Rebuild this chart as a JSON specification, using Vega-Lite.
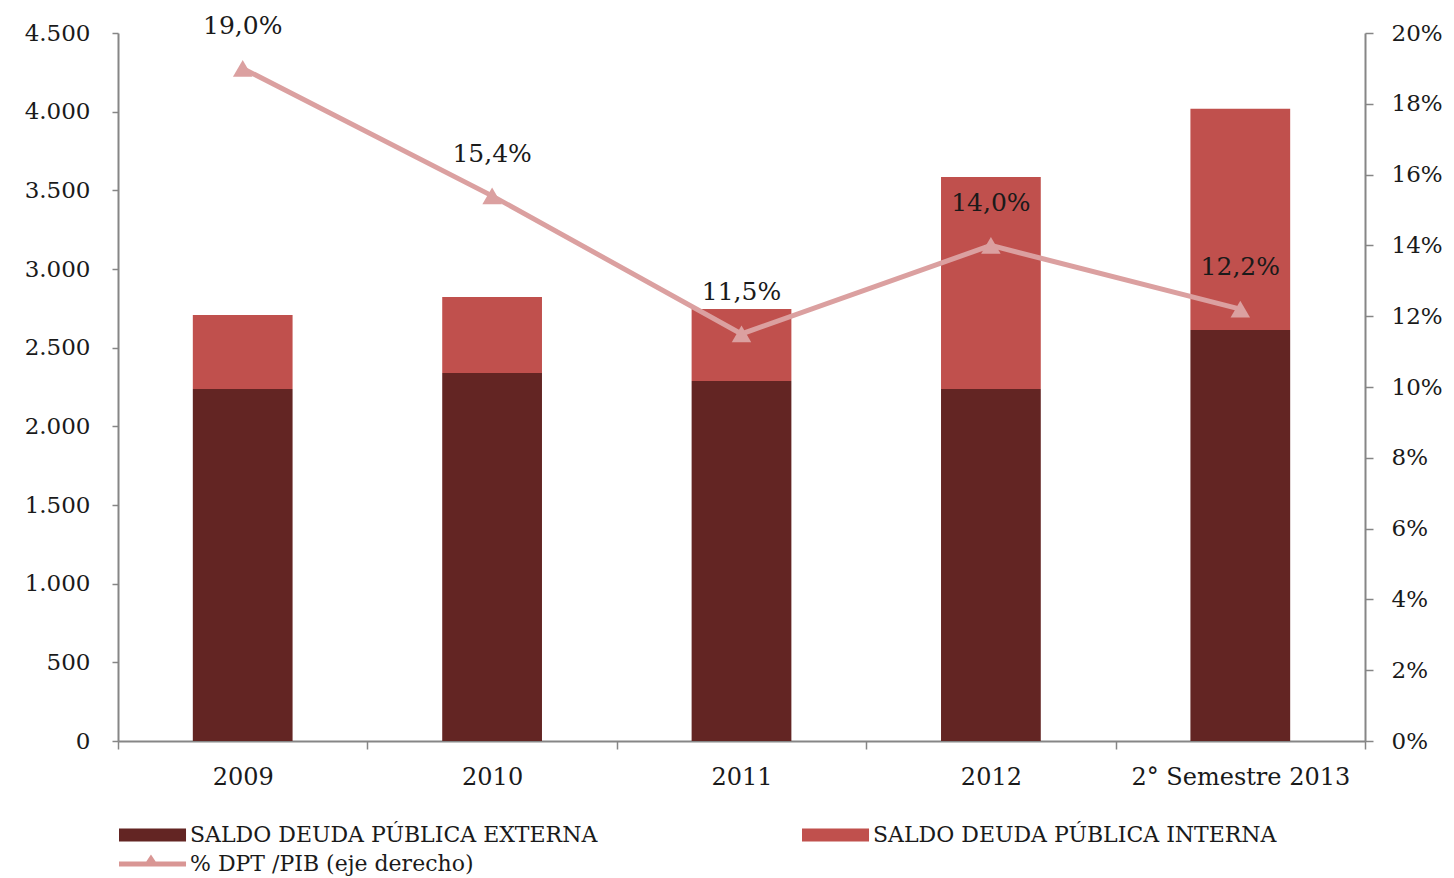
{
  "$schema": "https://vega.github.io/schema/vega-lite/v6.json",
  "width": 1247,
  "height": 708,
  "autosize": {"type": "none"},
  "padding": {"left": 118, "top": 33, "right": 89, "bottom": 137},
  "config": {
    "locale": {"number": {"decimal": ",", "thousands": ".", "grouping": [3], "currency": ["", ""]}},
    "view": {"stroke": null},
    "font": "DejaVu Serif",
    "axis": {
      "grid": false,
      "domainColor": "#868686",
      "tickColor": "#868686",
      "domainWidth": 2,
      "tickWidth": 1.5,
      "labelFont": "DejaVu Serif",
      "labelFontSize": 23,
      "labelColor": "#1a1a1a",
      "title": null
    }
  },
  "datasets": {
    "barras": [
      {"anio": "2009", "serie": "SALDO DEUDA PÚBLICA EXTERNA", "valor": 2238},
      {"anio": "2009", "serie": "SALDO DEUDA PÚBLICA INTERNA", "valor": 470},
      {"anio": "2010", "serie": "SALDO DEUDA PÚBLICA EXTERNA", "valor": 2339},
      {"anio": "2010", "serie": "SALDO DEUDA PÚBLICA INTERNA", "valor": 483},
      {"anio": "2011", "serie": "SALDO DEUDA PÚBLICA EXTERNA", "valor": 2288},
      {"anio": "2011", "serie": "SALDO DEUDA PÚBLICA INTERNA", "valor": 458},
      {"anio": "2012", "serie": "SALDO DEUDA PÚBLICA EXTERNA", "valor": 2238},
      {"anio": "2012", "serie": "SALDO DEUDA PÚBLICA INTERNA", "valor": 1347},
      {"anio": "2° Semestre 2013", "serie": "SALDO DEUDA PÚBLICA EXTERNA", "valor": 2613},
      {"anio": "2° Semestre 2013", "serie": "SALDO DEUDA PÚBLICA INTERNA", "valor": 1405}
    ],
    "linea": [
      {"anio": "2009", "pct": 0.190},
      {"anio": "2010", "pct": 0.154},
      {"anio": "2011", "pct": 0.115},
      {"anio": "2012", "pct": 0.140},
      {"anio": "2° Semestre 2013", "pct": 0.122}
    ]
  },
  "layer": [
    {
      "data": {"name": "barras"},
      "mark": {"type": "bar", "width": {"band": 0.4}},
      "encoding": {
        "x": {
          "field": "anio", "type": "nominal", "sort": null,
          "scale": {"paddingInner": 0, "paddingOuter": 0},
          "axis": {"labelAngle": 0, "tickBand": "extent", "tickSize": 8, "labelPadding": 16, "labelLimit": 0, "labelFontSize": 24}
        },
        "y": {
          "field": "valor", "type": "quantitative", "stack": "zero",
          "scale": {"domain": [0, 4500], "nice": false},
          "axis": {"orient": "left", "values": [0, 500, 1000, 1500, 2000, 2500, 3000, 3500, 4000, 4500], "format": ",d", "tickSize": 6, "labelPadding": 22}
        },
        "order": {"field": "serie", "sort": "ascending"},
        "color": {
          "field": "serie", "type": "nominal",
          "scale": {
            "domain": ["SALDO DEUDA PÚBLICA EXTERNA", "SALDO DEUDA PÚBLICA INTERNA", "% DPT /PIB (eje derecho)"],
            "range": ["#632523", "#C0504D", "#D99694"]
          },
          "legend": {
            "orient": "none",
            "direction": "horizontal",
            "legendX": -4,
            "legendY": 791,
            "columns": 2,
            "columnPadding": 199,
            "rowPadding": 7,
            "title": null,
            "symbolSize": 144,
            "symbolStrokeWidth": 0,
            "labelFont": "DejaVu Serif",
            "labelFontSize": 22,
            "labelColor": "#1a1a1a",
            "labelLimit": 0,
            "labelOffset": 54,
            "encode": {
              "symbols": {
                "update": {
                  "shape": {"signal": "datum.value === '% DPT /PIB (eje derecho)' ? 'M-1,-0.4L10.17,-0.4L10.17,0.4L-1,0.4Z M3,0.4L4.33,-1.6L5.66,0.4Z' : 'M-1,-1.1L10.17,-1.1L10.17,1.1L-1,1.1Z'"},
                  "fill": {"signal": "scale('color', datum.value)"},
                  "strokeWidth": {"value": 0}
                }
              }
            }
          }
        }
      }
    },
    {
      "data": {"name": "linea"},
      "encoding": {
        "x": {"field": "anio", "type": "nominal", "sort": null, "scale": {"paddingInner": 0, "paddingOuter": 0}},
        "y": {
          "field": "pct", "type": "quantitative",
          "scale": {"domain": [0, 0.2], "nice": false},
          "axis": {"orient": "right", "values": [0, 0.02, 0.04, 0.06, 0.08, 0.1, 0.12, 0.14, 0.16, 0.18, 0.2], "format": ".0%", "tickSize": 8, "labelPadding": 18}
        }
      },
      "layer": [
        {"mark": {"type": "line", "color": "#DBA0A0", "strokeWidth": 5}},
        {"mark": {"type": "point", "shape": "triangle-up", "filled": true, "color": "#DBA0A0", "opacity": 1, "size": 380}},
        {
          "mark": {"type": "text", "dy": -42, "fontSize": 25, "font": "DejaVu Serif", "color": "#1a1a1a"},
          "encoding": {"text": {"field": "pct", "type": "quantitative", "format": ".1%"}}
        }
      ]
    }
  ],
  "resolve": {"scale": {"y": "independent"}}
}
